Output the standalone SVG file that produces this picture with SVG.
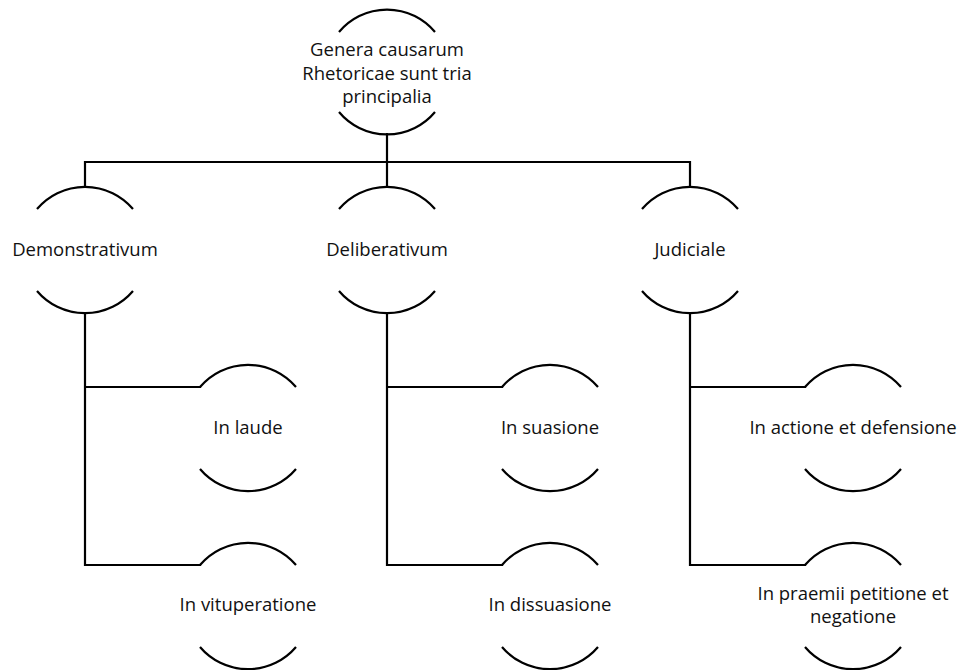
<svg xmlns="http://www.w3.org/2000/svg" width="963" height="670" viewBox="0 0 963 670">
<style>
.arc{fill:none;stroke:#000;stroke-width:2.2}
.ln{fill:none;stroke:#000;stroke-width:2.2;stroke-linecap:square}
text{font-family:"Open Sans","Liberation Sans",sans-serif;font-size:18.5px;fill:#111;text-anchor:middle}
</style>
<rect width="963" height="670" fill="#fff"/>
<g id="connectors">
<path class="ln" d="M387,134 V162 M85,162 H690 M85,162 V187 M387,162 V187 M690,162 V187"/>
<path class="ln" d="M85,313 V565 M85,387 H200 M85,565 H200"/>
<path class="ln" d="M387,313 V565 M387,387 H502 M387,565 H502"/>
<path class="ln" d="M690,313 V565 M690,387 H805 M690,565 H805"/>
</g>
<g id="root">
<path class="arc" d="M339,32 A62.5,62.5 0 0 1 435,32 M435,112 A62.5,62.5 0 0 1 339,112"/>
<text x="387" y="56">Genera causarum</text>
<text x="387" y="80">Rhetoricae sunt tria</text>
<text x="387" y="103">principalia</text>
</g>
<g id="demonstrativum">
<path class="arc" d="M37,209 A63,63 0 0 1 133,209 M133,291 A63,63 0 0 1 37,291"/>
<text x="85" y="256">Demonstrativum</text>
</g>
<g id="deliberativum">
<path class="arc" d="M339,209 A63,63 0 0 1 435,209 M435,291 A63,63 0 0 1 339,291"/>
<text x="387" y="256">Deliberativum</text>
</g>
<g id="judiciale">
<path class="arc" d="M642,209 A63,63 0 0 1 738,209 M738,291 A63,63 0 0 1 642,291"/>
<text x="690" y="256">Judiciale</text>
</g>
<g id="in-laude">
<path class="arc" d="M200,387 A63,63 0 0 1 296,387 M296,469 A63,63 0 0 1 200,469"/>
<text x="248" y="434">In laude</text>
</g>
<g id="in-vituperatione">
<path class="arc" d="M200,565 A63,63 0 0 1 296,565 M296,647 A63,63 0 0 1 200,647"/>
<text x="248" y="611">In vituperatione</text>
</g>
<g id="in-suasione">
<path class="arc" d="M502,387 A63,63 0 0 1 598,387 M598,469 A63,63 0 0 1 502,469"/>
<text x="550" y="434">In suasione</text>
</g>
<g id="in-dissuasione">
<path class="arc" d="M502,565 A63,63 0 0 1 598,565 M598,647 A63,63 0 0 1 502,647"/>
<text x="550" y="611">In dissuasione</text>
</g>
<g id="in-actione">
<path class="arc" d="M805,387 A63,63 0 0 1 901,387 M901,469 A63,63 0 0 1 805,469"/>
<text x="853" y="434">In actione et defensione</text>
</g>
<g id="in-praemii">
<path class="arc" d="M805,565 A63,63 0 0 1 901,565 M901,647 A63,63 0 0 1 805,647"/>
<text x="853" y="600">In praemii petitione et</text>
<text x="853" y="623">negatione</text>
</g>
</svg>
